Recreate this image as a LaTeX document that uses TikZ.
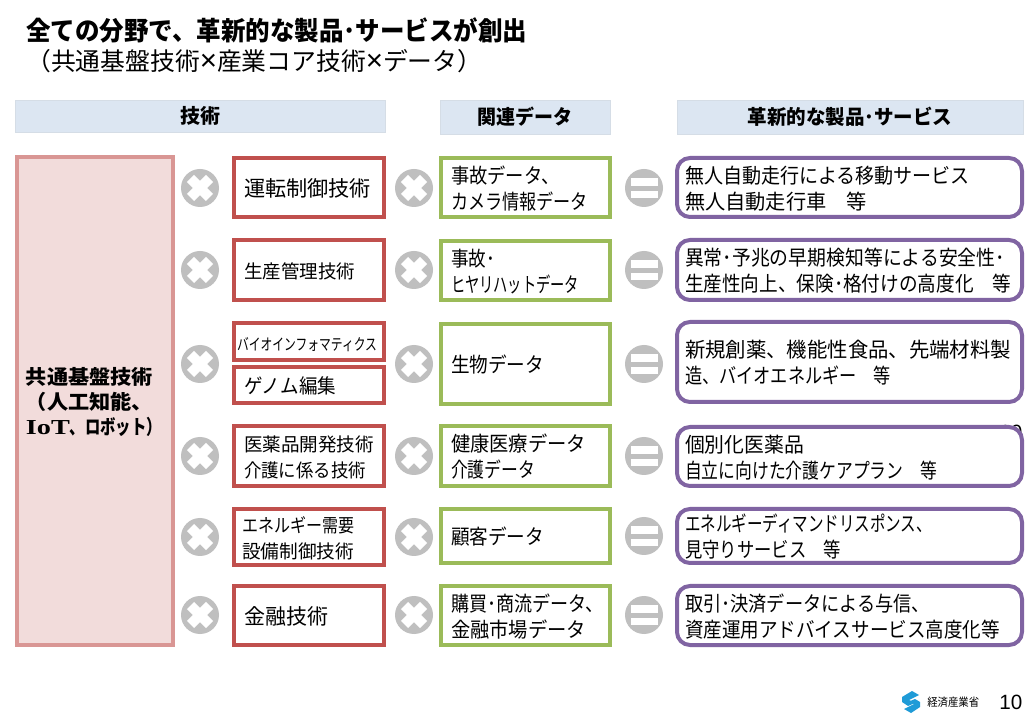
\documentclass[tikz,border=0pt]{standalone}
\usepackage{fontspec}
\usepackage{graphicx}
\setmainfont{Noto Sans CJK JP}
\newfontfamily\lat{Liberation Sans}
\newfontfamily\serfam{Liberation Serif}
\newlength\pu \setlength\pu{0.75pt}
\definecolor{hdr}{HTML}{DCE6F2}
\definecolor{hdrline}{HTML}{D5DDE6}
\definecolor{redb}{HTML}{C0504D}
\definecolor{pinkb}{HTML}{D99694}
\definecolor{pinkf}{HTML}{F2DCDB}
\definecolor{greenb}{HTML}{9BBB59}
\definecolor{purpb}{HTML}{8064A2}
\definecolor{mark}{HTML}{BFBFBF}
\definecolor{logo}{HTML}{1F9BD7}
% fit a line to a width in px, keeping its height; #1 is font size in pt
\newcommand\fw[3][15.5]{\resizebox{#2\pu}{\height}{\fontsize{#1}{#1}\selectfont #3}}
\tikzset{
  x=0.75pt,y=-0.75pt,
  basebox/.style={rectangle,line width=4\pu,fill=white,align=left,font=\fontsize{15}{19.5}\selectfont,text=black,inner ysep=0pt},
  redbox/.style={basebox,draw=redb},
  greenbox/.style={basebox,draw=greenb},
  purpbox/.style={basebox,draw=purpb,rounded corners=13\pu},
  pinkbox/.style={basebox,draw=pinkb,fill=pinkf,font=\fontsize{15}{18.75}\selectfont\bfseries},
  hdrbox/.style={rectangle,draw=hdrline,line width=0.75\pu,fill=hdr,inner sep=0pt,font=\fontsize{15}{18}\selectfont\bfseries},
  opmark/.style={circle,fill=mark,minimum size=38\pu,inner sep=0pt},
  crossbar/.style={draw=white,line width=10\pu,line cap=butt},
  eqbar/.style={fill=white,draw=none},
  plain/.style={inner sep=0pt,anchor=west,text=black},
}
% \bx[pad]{style}{name}{x1}{y1}{x2}{y2}{text}: x1..y2 are the outer edges in px
\newcommand\bx[8][10]{%
  \pgfmathsetlengthmacro\tw{(#5-#3-4-2*#1)*0.75}%
  \pgfmathsetlengthmacro\bh{(#6-#4-4)*0.75}%
  \pgfmathsetlengthmacro\pad{#1*0.75}%
  \node[#2,text width=\tw,inner xsep=\pad,minimum height=\bh] (#7) at ({(#3+#5)/2},{(#4+#6)/2}) {\rule{0pt}{14.5pt}#8};}
\newcommand\hd[6]{%
  \pgfmathsetlengthmacro\tw{(#3-#1)*0.75}%
  \pgfmathsetlengthmacro\bh{(#4-#2)*0.75}%
  \node[hdrbox,minimum width=\tw,minimum height=\bh] (#5) at ({(#1+#3)/2},{(#2+#4)/2}) {#6};}
\newcommand\mulm[3]{%
  \node[opmark] (#1) at (#2,#3) {};
  \draw[crossbar] ([shift={(-9.5,-9.5)}]#1.center) -- ([shift={(9.5,9.5)}]#1.center);
  \draw[crossbar] ([shift={(-9.5,9.5)}]#1.center) -- ([shift={(9.5,-9.5)}]#1.center);}
\newcommand\eqm[3]{%
  \node[opmark] (#1) at (#2,#3) {};
  \fill[eqbar] ([shift={(-13.5,-10)}]#1.center) rectangle ([shift={(13.5,-2)}]#1.center);
  \fill[eqbar] ([shift={(-13.5,3)}]#1.center) rectangle ([shift={(13.5,10)}]#1.center);}
\begin{document}
\begin{tikzpicture}
\useasboundingbox (0,0) rectangle (1026,720);
\fill[white] (0,0) rectangle (1026,720);
% title
\node[plain] (title) at (26,30) {\fontsize{19}{22}\selectfont\bfseries\fw[19.5]{501}{全ての分野で、革新的な製品･サービスが創出}};
\node[plain] (subtitle) at (26,61) {\fw[18.5]{456}{（共通基盤技術{\lat\fontsize{22}{22}\selectfont ×}産業コア技術{\lat\fontsize{22}{22}\selectfont ×}データ）}};
% headers
\hd{15}{100}{385}{132}{h1}{\fw[15]{40}{\bfseries 技術}}
\hd{440}{100}{610}{134}{h2}{\fw[15]{95}{\bfseries 関連データ}}
\hd{677}{100}{1023}{134}{h3}{\fw[15]{205}{\bfseries 革新的な製品･サービス}}
% stray page number partly hidden by the purple box
\node[plain] (hidden10) at (999,432) {\lat\fontsize{15.5}{18}\selectfont 10};
% common technology
\bx[9]{pinkbox}{15}{155}{175}{647}{base}{\fw[15]{127}{\bfseries 共通基盤技術}\\\fw[15]{127}{\bfseries （人工知能、}\\\fw[16]{44}{\serfam\bfseries IoT}\fw[15]{92}{\bfseries 、ロボット）}}
% core technology
\bx{redbox}{232}{156}{386}{219}{r1}{\fw[16]{127}{運転制御技術}}
\bx{redbox}{232}{238}{386}{302}{r2}{\fw[14]{111}{生産管理技術}}
\bx{redbox}{232}{321}{386}{362}{r3}{\hspace*{-7\pu}\fw[12]{140}{バイオインフォマティクス}}
\bx{redbox}{232}{365}{386}{405}{r4}{\fw[15]{92}{ゲノム編集}}
\bx{redbox}{232}{424}{386}{488}{r5}{\fw[14]{130}{医薬品開発技術}\\\fw[14]{122}{介護に係る技術}}
\bx{redbox}{232}{507}{386}{567}{r6}{\hspace*{-2\pu}\fw[14]{112}{エネルギー需要}\\\hspace*{-2\pu}\fw[14]{112}{設備制御技術}}
\bx{redbox}{232}{584}{386}{647}{r7}{\fw[16]{84}{金融技術}}
% data
\bx{greenbox}{439}{156}{612}{219}{g1}{\fw{109}{事故データ、}\\\fw{137}{カメラ情報データ}}
\bx{greenbox}{439}{239}{612}{302}{g2}{\fw{44}{事故･}\\\fw{128}{ヒヤリハットデータ}}
\bx{greenbox}{439}{322}{612}{406}{g3}{\fw{93}{生物データ}}
\bx{greenbox}{439}{424}{612}{488}{g4}{\fw{135}{健康医療データ}\\\fw{84}{介護データ}}
\bx{greenbox}{439}{507}{612}{565}{g5}{\fw{93}{顧客データ}}
\bx{greenbox}{439}{584}{612}{647}{g6}{\fw{153}{購買･商流データ、}\\\fw{135}{金融市場データ}}
% products
\bx[8]{purpbox}{675}{156}{1024}{219}{p1}{\fw{285}{無人自動走行による移動サービス}\\\fw{182}{無人自動走行車　等}}
\bx[8]{purpbox}{675}{238}{1024}{302}{p2}{\fw{320}{異常･予兆の早期検知等による安全性･}\\\fw{326}{生産性向上、保険･格付けの高度化　等}}
\bx[8]{purpbox}{675}{320}{1024}{404}{p3}{\fw{326}{新規創薬、機能性食品、先端材料製}\\\fw{206}{造、バイオエネルギー　等}}
\bx[8]{purpbox}{675}{425}{1024}{488}{p4}{\fw{119}{個別化医薬品}\\\fw{252}{自立に向けた介護ケアプラン　等}}
\bx[8]{purpbox}{675}{507}{1024}{565}{p5}{\fw{247}{エネルギーディマンドリスポンス、}\\\fw{156}{見守りサービス　等}}
\bx[8]{purpbox}{675}{584}{1024}{647}{p6}{\fw{245}{取引･決済データによる与信、}\\\fw{315}{資産運用アドバイスサービス高度化等}}
% operators
\mulm{ma1}{200}{188}\mulm{ma2}{200}{270}\mulm{ma3}{200}{364}\mulm{ma4}{200}{456}\mulm{ma5}{200}{537}\mulm{ma6}{200}{615}
\mulm{mb1}{414}{188}\mulm{mb2}{414}{270}\mulm{mb3}{414}{364}\mulm{mb4}{414}{456}\mulm{mb5}{414}{537}\mulm{mb6}{414}{615}
\eqm{e1}{644}{188}\eqm{e2}{644}{270}\eqm{e3}{644}{364}\eqm{e4}{644}{456}\eqm{e5}{644}{536}\eqm{e6}{644}{615}
% footer
\fill[logo] (902,697) -- (912,691) -- (919,695) -- (909,700) -- (915,703) -- (908,706) -- (902,702) -- cycle;
\fill[logo] (920,707) -- (911,713) -- (904,709) -- (914,704) -- (909,701.5) -- (915,699) -- (920,702) -- cycle;
\node[plain] (meti) at (927,702) {\fw[8.5]{52}{経済産業省}};
\node[plain] (pagenum) at (999,702) {\lat\fontsize{15.5}{18}\selectfont 10};
\end{tikzpicture}
\end{document}
